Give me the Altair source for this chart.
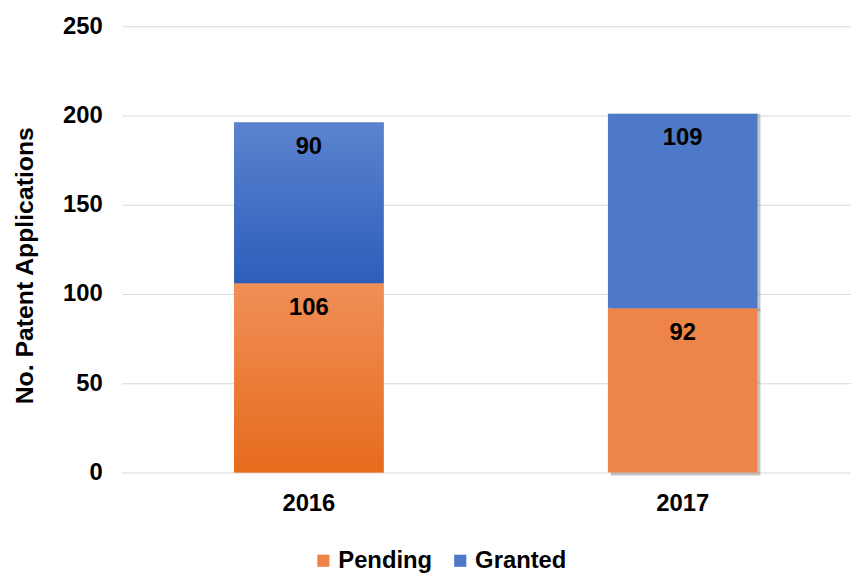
import altair as alt
import pandas as pd

years = ["2016", "2017"]
statuses = ["Pending", "Granted"]
pending = [106, 92]
granted = [90, 109]
colors = ["#EE8548", "#4E78C8"]

rows = []
for i, y in enumerate(years):
    rows.append({"year": y, "status": "Pending", "count": pending[i], "ord": 0})
    rows.append({"year": y, "status": "Granted", "count": granted[i], "ord": 1})
df = pd.DataFrame(rows)

FONT = "Liberation Sans"

xscale = alt.Scale(domain=years, paddingInner=0.6, paddingOuter=0.275, align=0.545)
yscale = alt.Scale(domain=[0, 250])

base = alt.Chart(df).transform_stack(
    stack="count", groupby=["year"], as_=["y0", "y1"], sort=[alt.SortField("ord", order="ascending")]
)

xenc = alt.X("year:N", scale=xscale, title=None,
             axis=alt.Axis(labelAngle=0, labelFont=FONT, labelFontSize=24, labelFontWeight="bold",
                           labelColor="#000000", labelPadding=19, domain=False, ticks=False, grid=False))
yenc = alt.Y("y0:Q", scale=yscale, title="No. Patent Applications",
             axis=alt.Axis(values=[0, 50, 100, 150, 200, 250], labelFont=FONT, labelFontSize=24,
                           labelFontWeight="bold", labelColor="#000000", labelPadding=20,
                           domain=False, ticks=False, gridColor="#D9D9D9", gridWidth=1,
                           titleFont=FONT, titleFontSize=25, titleFontWeight="bold", titleColor="#000000",
                           titleX=-98, titleY=241, titleAngle=270, titleAlign="center",
                           titleBaseline="middle"))

shadow = base.transform_filter(alt.datum.year == "2017").mark_bar(
    color="#7f7f7f", opacity=0.45, xOffset=3, yOffset=3
).encode(x=xenc, y=yenc, y2="y1:Q")

bars = base.mark_bar().encode(
    x=xenc, y=yenc, y2="y1:Q",
    color=alt.Color("status:N", scale=alt.Scale(domain=statuses, range=colors),
                    legend=alt.Legend(title=None, orient="none", direction="horizontal",
                                      legendX=191, legendY=527, symbolType="square", symbolSize=150,
                                      symbolStrokeWidth=0, labelFont=FONT, labelFontSize=24,
                                      labelFontWeight="bold", labelColor="#000000", columnPadding=16,
                                      labelOffset=3))
)

def grad(top, bottom):
    return alt.Gradient(gradient="linear", x1=0, y1=0, x2=0, y2=1,
                        stops=[alt.GradientStop(color=top, offset=0),
                               alt.GradientStop(color=bottom, offset=1)])

g_pending = base.transform_filter((alt.datum.year == "2016") & (alt.datum.status == "Pending")).mark_bar(
    color=grad("#F08F58", "#E66B1C")).encode(x=xenc, y=yenc, y2="y1:Q")
g_granted = base.transform_filter((alt.datum.year == "2016") & (alt.datum.status == "Granted")).mark_bar(
    color=grad("#5C83CF", "#2C5EBA")).encode(x=xenc, y=yenc, y2="y1:Q")

labels = base.mark_text(font=FONT, fontSize=24, fontWeight="bold", color="#000000",
                        baseline="middle", dy=25).encode(
    x=xenc, y=alt.Y("y1:Q", scale=yscale), text="count:Q")

chart = alt.layer(shadow, bars, g_pending, g_granted, labels).properties(
    width=735, height=450,
    padding={"left": 115, "top": 16, "right": 0, "bottom": 102},
    autosize=alt.AutoSizeParams(type="none"),
).configure_view(stroke=None)

chart.save("out.html", embed_options={"renderer": "svg", "actions": False})
